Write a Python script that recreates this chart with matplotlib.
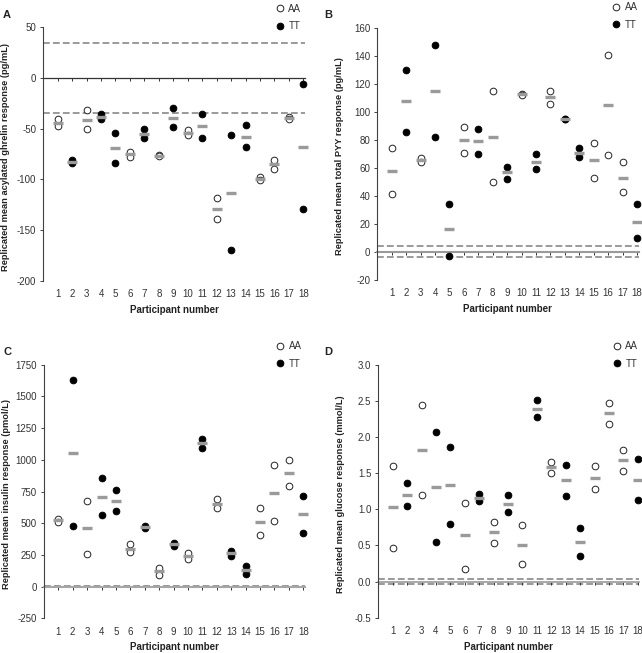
import matplotlib
matplotlib.use("Agg")
import matplotlib.pyplot as plt
from matplotlib.lines import Line2D

plt.rcParams['font.family'] = ['Liberation Sans', 'DejaVu Sans']

# participants and genotype (same for every panel)
participants = list(range(1, 19))
genotype = ["AA", "TT", "AA", "TT", "TT", "AA", "TT", "AA", "TT",
            "AA", "TT", "AA", "TT", "TT", "AA", "AA", "AA", "TT"]

# A - acylated ghrelin (pg/mL)
ghrelin_rep1 = [-40, -81, -32, -36, -54, -73, -50, -76, -30, -51, -36, -118, -56, -46, -98, -81, -38, -6]
ghrelin_rep2 = [-47, -84, -50, -40, -84, -78, -59, -77, -48, -56, -59, -139, -170, -68, -101, -90, -40, -129]
ghrelin_mean = [-44, -83, -41, -38, -69, -75, -55, -77, -39, -54, -47, -129, -113, -58, -100, -85, -39, -68]

# B - total PYY (pg/mL)
pyy_rep1 = [74, 130, 67, 148, 34, 89, 88, 115, 61, 113, 70, 115, 95, 74, 78, 141, 64, 34]
pyy_rep2 = [41, 86, 64, 82, -3, 71, 70, 50, 52, 112, 59, 106, 95, 68, 53, 69, 43, 10]
pyy_mean = [58, 108, 66, 115, 16, 80, 79, 82, 57, 113, 64, 111, 95, 71, 66, 105, 53, 21]

# C - insulin (pmol/L)
insulin_rep1 = [532, 1633, 675, 856, 761, 333, 478, 150, 346, 262, 1168, 690, 281, 160, 619, 963, 995, 714]
insulin_rep2 = [512, 480, 257, 564, 593, 270, 465, 92, 323, 215, 1092, 617, 241, 97, 407, 520, 795, 423]
insulin_mean = [522, 1055, 465, 709, 677, 299, 472, 123, 333, 239, 1129, 654, 262, 129, 512, 738, 895, 570]

# D - glucose (mmol/L)
glucose_rep1 = [1.60, 1.36, 2.44, 2.07, 1.87, 1.09, 1.21, 0.83, 1.20, 0.79, 2.51, 1.65, 1.62, 0.74, 1.60, 2.47, 1.82, 1.70]
glucose_rep2 = [0.47, 1.05, 1.20, 0.55, 0.80, 0.18, 1.11, 0.53, 0.97, 0.24, 2.28, 1.51, 1.19, 0.36, 1.28, 2.18, 1.53, 1.13]
glucose_mean = [1.03, 1.20, 1.82, 1.31, 1.34, 0.64, 1.16, 0.68, 1.08, 0.51, 2.39, 1.58, 1.41, 0.55, 1.44, 2.33, 1.68, 1.41]

# dashed limits of agreement
ghrelin_limit = 35
pyy_limit = 4
insulin_limit = 4
glucose_limit = 0.035

panels = [
    ("A", ghrelin_rep1, ghrelin_rep2, ghrelin_mean, ghrelin_limit,
     [-200, -150, -100, -50, 0, 50], ["-200", "-150", "-100", "-50", "0", "50"],
     "Replicated mean acylated ghrelin response (pg/mL)"),
    ("B", pyy_rep1, pyy_rep2, pyy_mean, pyy_limit,
     [-20, 0, 20, 40, 60, 80, 100, 120, 140, 160],
     ["-20", "0", "20", "40", "60", "80", "100", "120", "140", "160"],
     "Replicated mean total PYY response (pg/mL)"),
    ("C", insulin_rep1, insulin_rep2, insulin_mean, insulin_limit,
     [-250, 0, 250, 500, 750, 1000, 1250, 1500, 1750],
     ["-250", "0", "250", "500", "750", "1000", "1250", "1500", "1750"],
     "Replicated mean insulin response (pmol/L)"),
    ("D", glucose_rep1, glucose_rep2, glucose_mean, glucose_limit,
     [-0.5, 0, 0.5, 1.0, 1.5, 2.0, 2.5, 3.0],
     ["-0.5", "0.0", "0.5", "1.0", "1.5", "2.0", "2.5", "3.0"],
     "Replicated mean glucose response (mmol/L)"),
]

# layout (figure fractions) and per-panel styling
positions = [[0.0673, 0.5701, 0.4075, 0.3881],
             [0.5877, 0.5717, 0.4069, 0.3850],
             [0.0684, 0.0531, 0.4062, 0.3884],
             [0.5893, 0.0541, 0.4063, 0.3870]]
zero_colors = ["#333333", "#9a9a9a", "#a6a6a6", "#9a9a9a"]
zero_widths = [0.9, 1.5, 1.5, 1.2]
legend_anchor = [(0.885, 0.985), (0.895, 0.995), (0.888, 0.985), (0.895, 0.985)]
letter_pos = [(0.005, 0.985), (0.505, 0.985), (0.005, 0.468), (0.505, 0.468)]

fig = plt.figure(figsize=(6.42, 6.53), dpi=100)
grey = "#9a9a9a"
txt = "#333333"

for k, (letter, rep1, rep2, means, limit, yticks, ylabels, ylabel) in enumerate(panels):
    ax = fig.add_axes(positions[k])

    aa_x = [p for p, g in zip(participants, genotype) if g == "AA"]
    tt_x = [p for p, g in zip(participants, genotype) if g == "TT"]
    aa_y1 = [v for v, g in zip(rep1, genotype) if g == "AA"]
    aa_y2 = [v for v, g in zip(rep2, genotype) if g == "AA"]
    tt_y1 = [v for v, g in zip(rep1, genotype) if g == "TT"]
    tt_y2 = [v for v, g in zip(rep2, genotype) if g == "TT"]

    ax.plot(aa_x + aa_x, aa_y1 + aa_y2, linestyle="none", marker="o", ms=4.8,
            mfc="white", mec="#222222", mew=0.7, zorder=3, clip_on=False)
    ax.plot(tt_x + tt_x, tt_y1 + tt_y2, linestyle="none", marker="o", ms=4.8,
            mfc="black", mec="black", mew=0.7, zorder=3, clip_on=False)
    # mean of replicates
    ax.plot(participants, means, linestyle="none", marker="_", ms=6.5, mew=2.4,
            color=grey, zorder=4, clip_on=False)

    ax.axhline(limit, color=grey, lw=1.4, ls=(0, (3.5, 1.6)), zorder=1)
    ax.axhline(-limit, color=grey, lw=1.4, ls=(0, (3.5, 1.6)), zorder=1)

    ax.set_xlim(0, 18.1)
    ax.set_ylim(yticks[0], yticks[-1])
    ax.set_yticks(yticks, labels=ylabels)

    ax.spines["top"].set_visible(False)
    ax.spines["right"].set_visible(False)
    ax.spines["left"].set_color("#404040")
    ax.spines["left"].set_linewidth(0.8)
    ax.spines["bottom"].set_position(("data", 0))
    ax.spines["bottom"].set_color(zero_colors[k])
    ax.spines["bottom"].set_linewidth(zero_widths[k])
    ax.spines["bottom"].set_zorder(2)

    ax.set_xticks(participants)
    ax.tick_params(axis="x", labelbottom=False, length=2.5, width=0.7,
                   color="#333333", direction="out")
    ax.tick_params(axis="y", length=2.5, width=0.7, color="#404040",
                   labelsize=7, labelcolor=txt, pad=2.5)

    # participant labels along the bottom of the plot
    sec = ax.secondary_xaxis("bottom")
    sec.set_xticks(participants, labels=[str(p) for p in participants])
    sec.tick_params(length=0, pad=6, labelsize=7, labelcolor=txt)
    sec.spines["bottom"].set_visible(False)
    sec.set_xlabel("Participant number", fontsize=7, fontweight="bold",
                   color="#222222", labelpad=4)

    ax.set_ylabel(ylabel, fontsize=6.7, fontweight="bold", color="#222222")
    ax.yaxis.set_label_coords(-0.128, 0.49)

    handles = [Line2D([], [], ls="none", marker="o", ms=4.8, mfc="white", mec="#222222", mew=0.7),
               Line2D([], [], ls="none", marker="o", ms=4.8, mfc="black", mec="black", mew=0.7)]
    leg = ax.legend(handles, ["AA", "TT"], loc="lower left", bbox_to_anchor=legend_anchor[k],
                    frameon=False, fontsize=7, handlelength=1.0, handletextpad=0.4,
                    labelspacing=0.75, borderpad=0, borderaxespad=0)
    for t in leg.get_texts():
        t.set_color(txt)

    fig.text(letter_pos[k][0], letter_pos[k][1], letter, fontsize=8,
             fontweight="bold", color="#222222", ha="left", va="top")

fig.savefig("out.png", dpi=100)
